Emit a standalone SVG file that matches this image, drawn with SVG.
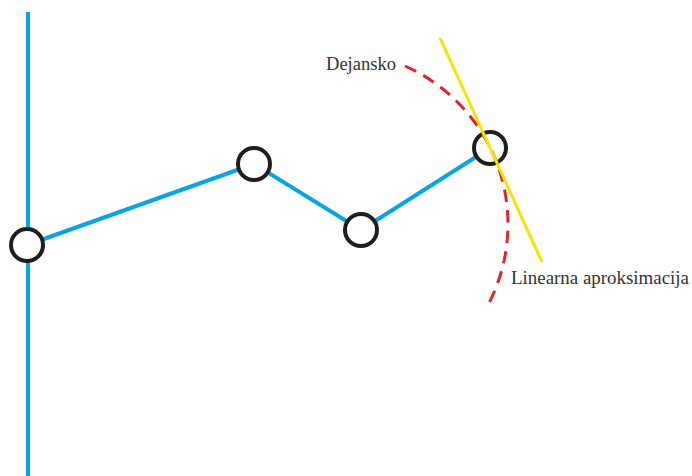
<svg xmlns="http://www.w3.org/2000/svg" width="692" height="476" viewBox="0 0 692 476">
  <style>
    .chain { fill: none; stroke: #08a6e0; stroke-width: 4; stroke-linejoin: round; }
    .node { fill: #ffffff; stroke: #1e1e1e; stroke-width: 4; }
    .actual { fill: none; stroke: #e3222b; stroke-width: 3; stroke-dasharray: 12.4 8.2; }
    .tangent { stroke: #f7e400; stroke-width: 3; }
    .label { font-family: "Liberation Serif", "DejaVu Serif", serif; font-size: 18px; fill: #333333; }
  </style>
  <rect width="692" height="476" fill="#ffffff"/>
  <g id="connectors">
    <line class="chain" x1="28" y1="12" x2="28" y2="476"/>
    <polyline class="chain" points="27,245 254,164 361,230 490,148"/>
  </g>
  <g id="node-1"><circle class="node" cx="27" cy="245" r="16"/></g>
  <g id="node-2"><circle class="node" cx="254" cy="164" r="16"/></g>
  <g id="node-3"><circle class="node" cx="361" cy="230" r="16"/></g>
  <g id="node-4"><circle class="node" cx="490" cy="148" r="16"/></g>
  <g id="actual-curve">
    <path class="actual" d="M405,66 A173,173 0 0 1 489,303"/>
    <text class="label" x="326" y="70" textLength="70" lengthAdjust="spacingAndGlyphs">Dejansko</text>
  </g>
  <g id="linear-approximation">
    <line class="tangent" x1="440" y1="38" x2="542" y2="262"/>
    <text class="label" x="511" y="284" textLength="178" lengthAdjust="spacingAndGlyphs">Linearna aproksimacija</text>
  </g>
</svg>
